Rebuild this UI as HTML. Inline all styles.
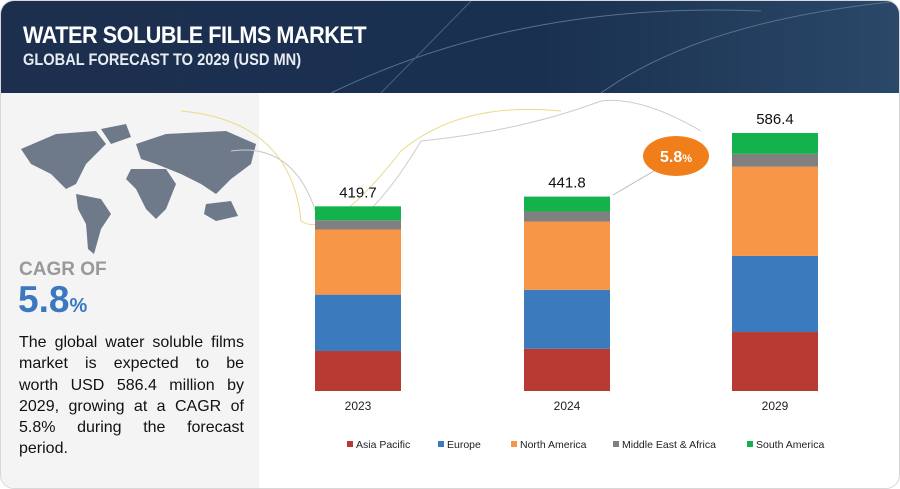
<!DOCTYPE html>
<html><head><meta charset="utf-8"><style>
body{margin:0;width:900px;height:489px;overflow:hidden;background:#fff;font-family:"Liberation Sans",sans-serif;}
#frame{position:absolute;left:0;top:0;width:898px;height:487px;border:1px solid #d8d8d8;border-radius:14px;overflow:hidden;background:#fff}
#header{position:absolute;left:0;top:0;width:898px;height:92px;background:linear-gradient(90deg,#1c2f4f,#1a3050 60%,#2a4868)}
#t1{position:absolute;left:22px;top:21px;color:#fff;font-weight:bold;font-size:24px;letter-spacing:-0.5px;transform:scaleX(0.9);transform-origin:left}
#t2{position:absolute;left:22px;top:49px;color:#e8ecf2;font-weight:bold;font-size:17px;transform:scaleX(0.86);transform-origin:left}
#left{position:absolute;left:0;top:92px;width:258px;height:397px;background:#f4f4f5}
#cagr{position:absolute;left:18px;top:258px;color:#999;font-weight:bold;font-size:19px}
#cagrv{position:absolute;left:17px;top:278px;color:#3a78c0;font-size:37px;font-weight:bold}
#cagrv span{font-size:20px}
#desc{position:absolute;left:18px;top:331px;width:225px;font-size:16px;line-height:21.3px;color:#111}
#desc div{text-align:justify;text-align-last:justify;white-space:nowrap}
#desc div.last{text-align-last:left}
</style></head><body>
<div id="frame">
<div id="header">
<svg width="898" height="92" style="position:absolute;left:0;top:0">
<path d="M330 92 Q520 0 760 10" stroke="#5a7090" fill="none" stroke-width="1"/>
<path d="M600 92 Q700 20 898 0" stroke="#5a7090" fill="none" stroke-width="1"/>
<path d="M380 92 L470 0" stroke="#4a6080" fill="none"/>
</svg>
<div id="t1">WATER SOLUBLE FILMS MARKET</div>
<div id="t2">GLOBAL FORECAST TO 2029 (USD MN)</div>
</div>
<div id="left"></div>
<svg width="260" height="150" style="position:absolute;left:15px;top:118px">
<g fill="#6e7a8a">
<path d="M5 30 L40 15 L80 12 L90 25 L70 45 L60 65 L50 70 L35 55 L15 45Z"/>
<path d="M85 10 L110 5 L115 18 L95 25Z"/>
<path d="M60 75 L85 80 L95 95 L85 110 L78 135 L72 130 L70 105 L62 90Z"/>
<path d="M120 25 L150 15 L210 12 L240 25 L235 45 L215 60 L200 75 L185 65 L165 55 L140 45 L125 40Z"/>
<path d="M115 50 L150 50 L160 65 L150 90 L140 100 L130 90 L120 70 L110 60Z"/>
<path d="M190 85 L215 82 L222 97 L200 102 L188 95Z"/>
</g></svg>
<div id="cagr">CAGR OF</div>
<div id="cagrv">5.8<span>%</span></div>
<div id="desc">
<div>The global water soluble films</div>
<div>market is expected to be</div>
<div>worth USD 586.4 million by</div>
<div>2029, growing at a CAGR of</div>
<div>5.8% during the forecast</div>
<div class="last">period.</div>
</div>
<svg id="chart" width="900" height="489" style="position:absolute;left:0;top:0">
<path d="M230 150 Q300 140 320 230 Q360 240 420 140 Q520 130 600 100 Q640 95 700 130" stroke="#ccc" fill="none" stroke-width="1"/>
<path d="M180 110 Q290 120 300 220 Q330 240 400 150 Q460 100 560 110" stroke="#e9d98a" fill="none" stroke-width="1"/>
<line x1="612" y1="194" x2="670" y2="160" stroke="#bbb" stroke-width="1"/>
<ellipse cx="675" cy="155" rx="33" ry="20" fill="#f07e1a"/>
<text x="675" y="161" text-anchor="middle" fill="#fff" font-weight="bold" font-size="16" font-family="Liberation Sans">5.8<tspan font-size="11">%</tspan></text>
<g id="bars"></g>
<g id="legend"></g>
</svg>
</div>
<script>
const categories=["2023","2024","2029"];
const totals=["419.7","441.8","586.4"];
const seriesNames=["Asia Pacific","Europe","North America","Middle East & Africa","South America"];
const asiaPacific=[91,96,134];
const europe=[128,134,173];
const northAmerica=[148,155,203];
const middleEastAfrica=[21,23,29];
const southAmerica=[31.7,33.8,47.4];
const colors=["#b83a32","#3a7abd","#f79646","#808080","#13b24c"];
const series=[asiaPacific,europe,northAmerica,middleEastAfrica,southAmerica];
const base=390,scale=0.44,barW=86;
const centers=[357,566,774];
function y(v){return base-v*scale;}
const ns="http://www.w3.org/2000/svg";
const g=document.getElementById('bars');
categories.forEach((c,i)=>{
 let cum=0;
 series.forEach((s,k)=>{
  const r=document.createElementNS(ns,'rect');
  r.setAttribute('x',centers[i]-barW/2);r.setAttribute('width',barW);
  r.setAttribute('y',y(cum+s[i]));r.setAttribute('height',s[i]*scale);
  r.setAttribute('fill',colors[k]);
  
  
  g.appendChild(r);cum+=s[i];
 });
 const t=document.createElementNS(ns,'text');
 t.setAttribute('x',centers[i]);t.setAttribute('y',y(cum)-9);t.setAttribute('text-anchor','middle');
 t.setAttribute('font-size','15');t.setAttribute('font-family','Liberation Sans');t.setAttribute('fill','#111');
 t.textContent=totals[i];
 
 
 g.appendChild(t);
 const x=document.createElementNS(ns,'text');
 x.setAttribute('x',centers[i]);x.setAttribute('y',409);x.setAttribute('text-anchor','middle');
 x.setAttribute('font-size','12');x.setAttribute('font-family','Liberation Sans');x.setAttribute('fill','#222');
 x.textContent=c;
 
 
 g.appendChild(x);
});
const lx=[346,437,510,612,746];
const lg=document.getElementById('legend');
seriesNames.forEach((n,k)=>{
 const r=document.createElementNS(ns,'rect');
 r.setAttribute('x',lx[k]);r.setAttribute('y',440);r.setAttribute('width',6);r.setAttribute('height',6);r.setAttribute('fill',colors[k]);
 
 
 lg.appendChild(r);
 const t=document.createElementNS(ns,'text');
 t.setAttribute('x',lx[k]+9);t.setAttribute('y',447);t.setAttribute('font-size','10.5');t.setAttribute('font-family','Liberation Sans');t.setAttribute('fill','#222');
 t.textContent=n;
 
 
 lg.appendChild(t);
});
</script>
</body></html>
